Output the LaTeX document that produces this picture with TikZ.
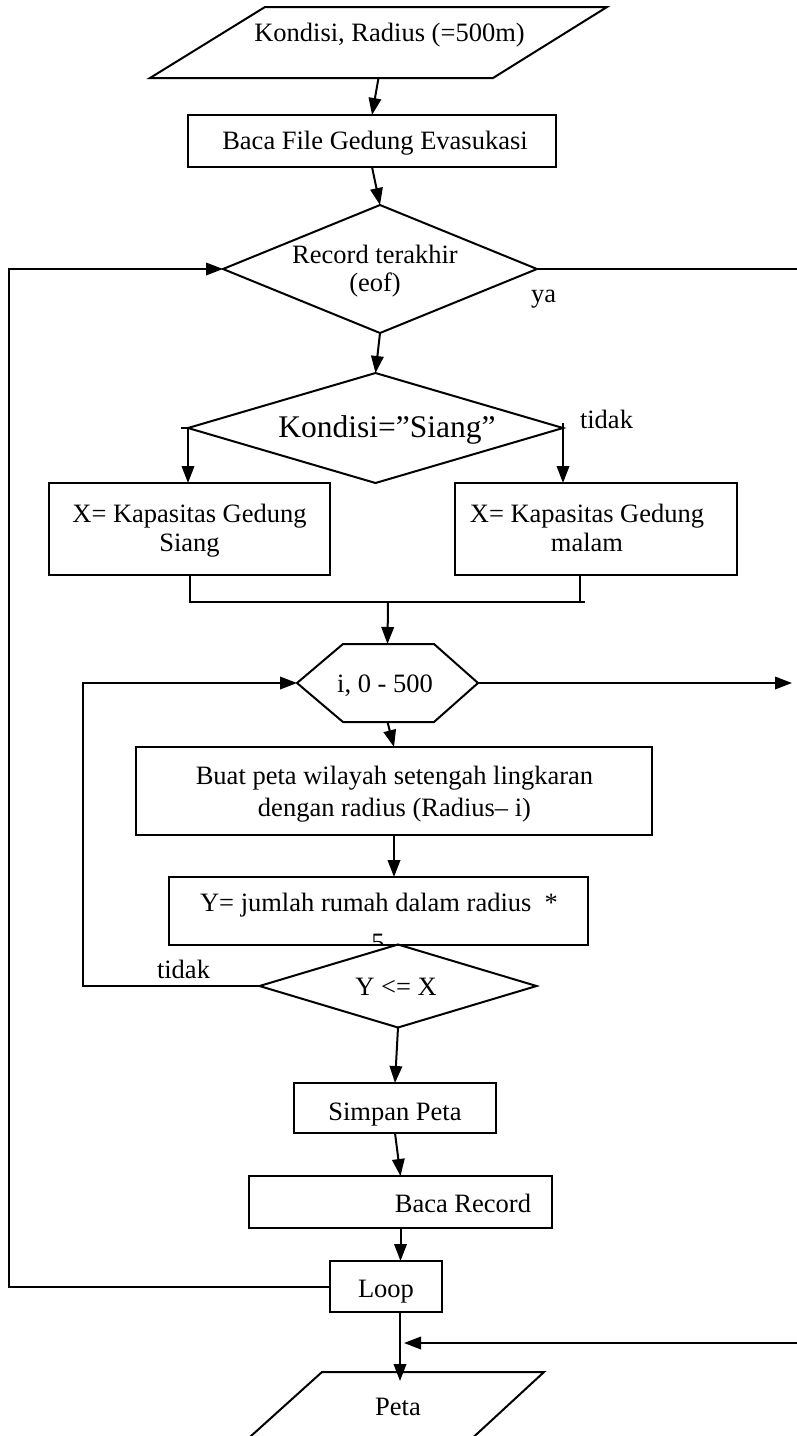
\documentclass[tikz,border=0pt]{standalone}
\usepackage{fontspec}
\setmainfont{Liberation Serif}
\usetikzlibrary{arrows.meta,shapes.geometric}
\begin{document}
\begin{tikzpicture}[x=1pt,y=-1pt,
  line width=2pt,
  arr/.style={-{Triangle[length=17pt,width=12.5pt]}},
  box/.style={draw, rectangle, inner sep=0pt, outer sep=0pt},
  dia/.style={draw, diamond, inner sep=0pt, outer sep=0pt},
  frame/.style={rectangle, inner sep=0pt, outer sep=0pt},
  txt/.style={inner sep=0pt, outer sep=0pt, anchor=base, font=\fontsize{26.5}{30}\selectfont},
  bigtxt/.style={txt, font=\fontsize{31.5}{36}\selectfont}]

\fill[white] (0,0) rectangle (796,1436);
\useasboundingbox (0,0) rectangle (796,1436);

% shapes
\node[frame, minimum width=457pt, minimum height=71pt] (inp) at (378.5,42.5) {};
\draw ([xshift=115pt]inp.north west) -- (inp.north east) -- ([xshift=-114pt]inp.south east) -- (inp.south west) -- cycle;
\node[box, minimum width=368pt, minimum height=52pt] (bf) at (372,141) {};
\node[dia, minimum width=314pt, minimum height=128pt] (rec) at (380,269) {};
\node[dia, minimum width=375pt, minimum height=110pt] (ks) at (375.5,428) {};
\node[box, minimum width=281pt, minimum height=92pt] (lbox) at (189.5,529) {};
\node[box, minimum width=282pt, minimum height=92pt] (rbox) at (596,529) {};
\node[frame, minimum width=181pt, minimum height=78pt] (hex) at (387.5,683) {};
\draw (hex.west) -- ([xshift=46pt]hex.north west) -- ([xshift=-44pt]hex.north east) -- (hex.east) -- ([xshift=-44pt]hex.south east) -- ([xshift=46pt]hex.south west) -- cycle;
\node[box, minimum width=516pt, minimum height=88pt] (bp) at (394,791) {};
\begin{scope}
  \clip (169,877) rectangle (588,945);
  \node[txt] (t9b) at (378,951) {5};
\end{scope}
\node[box, minimum width=419pt, minimum height=68pt] (ybox) at (378.5,911) {};
\node[dia, minimum width=277pt, minimum height=83pt] (yx) at (398,986) {};
\node[box, minimum width=202pt, minimum height=50pt] (simpan) at (395,1108) {};
\node[box, minimum width=303pt, minimum height=52pt] (bacarec) at (400.5,1202) {};
\node[box, minimum width=112pt, minimum height=51pt] (loop) at (386,1286.5) {};
\node[frame, minimum width=308.5pt, minimum height=78pt] (peta) at (389.75,1411) {};
\draw ([xshift=86.5pt]peta.north west) -- (peta.north east) -- ([xshift=-84.5pt]peta.south east) -- (peta.south west) -- cycle;

% texts
\node[txt] (t1) at (389.5,41) {Kondisi, Radius (=500m)};
\node[txt] (t2) at (375,149) {Baca File Gedung Evasukasi};
\node[txt] (t3a) at (375,263) {Record terakhir};
\node[txt] (t3b) at (375,291) {(eof)};
\node[txt, anchor=base west] (tya) at (531,302) {ya};
\node[bigtxt] (t4) at (387,437) {Kondisi=”Siang”};
\node[txt, anchor=base west] (tt1) at (580,428) {tidak};
\node[txt] (t5a) at (189.5,522) {X= Kapasitas Gedung};
\node[txt] (t5b) at (189.5,551) {Siang};
\node[txt] (t6a) at (587,522) {X= Kapasitas Gedung};
\node[txt] (t6b) at (587,551) {malam};
\node[txt] (t7) at (385,692) {i, 0 - 500};
\node[txt] (t8a) at (394.5,784) {Buat peta wilayah setengah lingkaran};
\node[txt] (t8b) at (394.5,816) {dengan radius (Radius– i)};
\node[txt] (t9) at (379,911) {Y= jumlah rumah dalam radius\ \ *};
\node[txt] (t10) at (396,995) {Y <= X};
\node[txt, anchor=base west] (tt2) at (157,978) {tidak};
\node[txt] (t11) at (395,1120) {Simpan Peta};
\node[txt, anchor=base east] (t12) at (531,1212) {Baca Record};
\node[txt] (t13) at (386,1297) {Loop};
\node[txt] (t14) at (398,1415) {Peta};

% coordinates
\coordinate (jl) at (189.5,602);
\coordinate (jr) at (585,602);
\coordinate (jrv) at (580,602);
\coordinate (jm) at (388,602);
\coordinate (hexout) at (792,683);
\coordinate (rcorner) at (800,1343);
\coordinate (pin) at (404,1343);

% connectors
\draw[arr] (inp.south) -- (bf.north);
\draw[arr] (bf.south) -- (rec.north);
\draw[arr] (rec.south) -- (ks.north);
\draw ([xshift=-7pt]ks.west) -- (ks.west);
\draw[arr] (ks.west) -- (ks.west |- lbox.north);
\draw[arr] ([yshift=5pt]ks.east) -- (ks.east |- rbox.north);
\draw (lbox.south) -- (jl) -- (jr);
\draw (jrv |- rbox.south) -- (jrv);
\draw[arr] (jm) -- (hex.north);
\draw[arr] (hex.south) -- (bp.north);
\draw[arr] (hex.east) -- (hexout);
\draw[arr] (bp.south) -- (bp.south |- ybox.north);
\draw[arr] (yx.west) -- ++(-177,0) |- (hex.west);
\draw[arr] (yx.south) -- (simpan.north);
\draw[arr] (simpan.south) -- (bacarec.north);
\draw[arr] (bacarec.south) -- (bacarec.south |- loop.north);
\draw[arr] (loop.west) -- ++(-321,0) |- (rec.west);
\draw[arr] (rec.east) -| (rcorner) -- (pin);
\draw[arr] ([xshift=14pt]loop.south) -- ++(0,69);
\end{tikzpicture}
\end{document}
